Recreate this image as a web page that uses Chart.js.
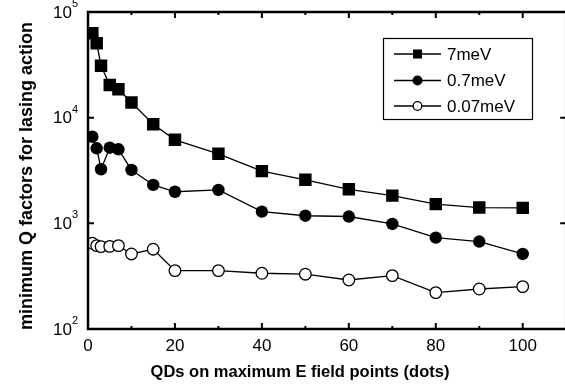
<!DOCTYPE html>
<html>
<head>
<meta charset="utf-8">
<script src="https://cdn.jsdelivr.net/npm/chart.js@4/dist/chart.umd.min.js"></script>
<style>
html, body { margin: 0; padding: 0; background: #fff; overflow: hidden; }
canvas { display: block; }
</style>
</head>
<body>
<canvas id="q-chart" width="575" height="389"></canvas>
<script>
const dots = [1, 2, 3, 5, 7, 10, 15, 20, 30, 40, 50, 60, 70, 80, 90, 100];
const q7meV = [62900, 50600, 31000, 20400, 18600, 13900, 8660, 6170, 4550, 3120, 2580, 2100, 1830, 1520, 1410, 1400];
const q07meV = [6600, 5130, 3250, 5200, 5020, 3200, 2310, 1990, 2070, 1290, 1180, 1160, 986, 732, 672, 513];
const q007meV = [648, 615, 602, 605, 615, 513, 569, 357, 357, 337, 330, 291, 320, 221, 239, 252];
const seriesLabels = ["7meV", "0.7meV", "0.07meV"];
const xMajorTicks = [0, 20, 40, 60, 80, 100];
const xMinorTicks = [10, 30, 50, 70, 90, 110];
const yDecades = [2, 3, 4, 5];

const FONT = '"Liberation Sans", Arial, sans-serif';

function pts(ys) {
	return dots.map((d, i) => ({ x: d, y: ys[i] }));
}

// frame, inward ticks, tick labels, axis titles and legend
const axesPlugin = {
	id: "axesPlugin",
	afterDraw(chart) {
		const { ctx, chartArea: a, scales: { x, y } } = chart;
		ctx.save();
		ctx.strokeStyle = "#000";
		ctx.fillStyle = "#000";

		// ticks
		ctx.lineWidth = 2;
		ctx.beginPath();
		xMajorTicks.forEach(v => {
			const px = x.getPixelForValue(v);
			ctx.moveTo(px, a.bottom); ctx.lineTo(px, a.bottom - 6);
			ctx.moveTo(px, a.top); ctx.lineTo(px, a.top + 6);
		});
		xMinorTicks.forEach(v => {
			const px = x.getPixelForValue(v);
			ctx.moveTo(px, a.bottom); ctx.lineTo(px, a.bottom - 3);
			ctx.moveTo(px, a.top); ctx.lineTo(px, a.top + 3);
		});
		yDecades.forEach(e => {
			const py = y.getPixelForValue(Math.pow(10, e));
			ctx.moveTo(a.left, py); ctx.lineTo(a.left + 6, py);
			ctx.moveTo(a.right, py); ctx.lineTo(a.right - 6, py);
		});
		ctx.stroke();

		// frame
		ctx.lineWidth = 2.5;
		ctx.strokeRect(a.left, a.top, a.right - a.left, a.bottom - a.top);

		// x tick labels
		ctx.font = "17px " + FONT;
		ctx.textAlign = "center";
		ctx.textBaseline = "top";
		xMajorTicks.forEach(v => {
			ctx.fillText(String(v), x.getPixelForValue(v), a.bottom + 9);
		});

		// y tick labels 10^n
		ctx.textBaseline = "middle";
		yDecades.forEach(e => {
			const py = y.getPixelForValue(Math.pow(10, e));
			ctx.font = "17px " + FONT;
			ctx.textAlign = "right";
			ctx.fillText("10", a.left - 16, py + 1);
			ctx.font = "11px " + FONT;
			ctx.textAlign = "left";
			ctx.fillText(String(e), a.left - 16, py - 8);
		});

		// axis titles
		ctx.textAlign = "center";
		ctx.textBaseline = "middle";
		ctx.font = "bold 16.5px " + FONT;
		ctx.fillText("QDs on maximum E field points (dots)", 300, 372);
		ctx.save();
		ctx.translate(27, 176);
		ctx.rotate(-Math.PI / 2);
		ctx.font = "bold 18px " + FONT;
		ctx.fillText("minimum Q factors for lasing action", 0, 0);
		ctx.restore();

		// legend
		const lx = 383.5, ly = 38.5, lw = 149, lh = 81;
		ctx.fillStyle = "#fff";
		ctx.fillRect(lx, ly, lw, lh);
		ctx.lineWidth = 1.2;
		ctx.strokeRect(lx, ly, lw, lh);
		const rows = [54, 80.5, 106];
		rows.forEach((ry, i) => {
			ctx.lineWidth = 1.3;
			ctx.beginPath();
			ctx.moveTo(394, ry); ctx.lineTo(441, ry);
			ctx.stroke();
			const mx = 417.5;
			ctx.beginPath();
			if (i === 0) {
				ctx.fillStyle = "#000";
				ctx.fillRect(mx - 4.5, ry - 4.5, 9, 9);
			} else {
				ctx.arc(mx, ry, 4.3, 0, Math.PI * 2);
				ctx.fillStyle = i === 1 ? "#000" : "#fff";
				ctx.fill();
				ctx.stroke();
			}
			ctx.fillStyle = "#000";
			ctx.font = "17px " + FONT;
			ctx.textAlign = "left";
			ctx.textBaseline = "middle";
			ctx.fillText(seriesLabels[i], 447, ry + 1);
		});
		ctx.restore();
	}
};

const qContext = document.getElementById("q-chart").getContext("2d");
const qChart = new Chart(qContext, {
	type: "line",
	data: {
		datasets: [
			{
				label: seriesLabels[0],
				data: pts(q7meV),
				borderColor: "#000",
				borderWidth: 1.3,
				pointStyle: "rect",
				pointRadius: 8.8,
				pointBackgroundColor: "#000",
				pointBorderWidth: 0
			},
			{
				label: seriesLabels[1],
				data: pts(q07meV),
				borderColor: "#000",
				borderWidth: 1.3,
				pointStyle: "circle",
				pointRadius: 6.2,
				pointBackgroundColor: "#000",
				pointBorderWidth: 0
			},
			{
				label: seriesLabels[2],
				data: pts(q007meV),
				borderColor: "#000",
				borderWidth: 1.3,
				pointStyle: "circle",
				pointRadius: 5.8,
				pointBackgroundColor: "#fff",
				pointBorderColor: "#000",
				pointBorderWidth: 1.3
			}
		]
	},
	options: {
		responsive: false,
		animation: false,
		layout: { padding: { left: 88, top: 12, right: 3, bottom: 60 } },
		scales: {
			x: { type: "linear", min: 0, max: 110, display: false },
			y: { type: "logarithmic", min: 100, max: 100000, display: false }
		},
		plugins: {
			legend: { display: false },
			tooltip: { enabled: false }
		}
	},
	plugins: [axesPlugin]
});
</script>
</body>
</html>
